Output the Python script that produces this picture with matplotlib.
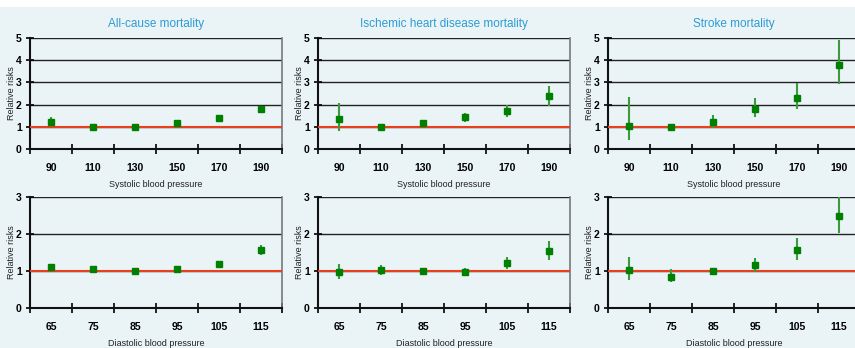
import matplotlib
matplotlib.use("Agg")
import matplotlib.pyplot as plt
from matplotlib.patches import Rectangle
import numpy as np

plt.rcParams['font.family'] = ['Liberation Sans Narrow', 'Liberation Sans', 'DejaVu Sans']

titles = ["All-cause mortality", "Ischemic heart disease mortality", "Stroke mortality"]

sbp_labels = ["90", "110", "130", "150", "170", "190"]
dbp_labels = ["65", "75", "85", "95", "105", "115"]

# systolic: relative risk, lower, upper
sbp_rr = [[1.20, 1.00, 1.00, 1.18, 1.40, 1.78],
          [1.33, 1.00, 1.15, 1.42, 1.72, 2.37],
          [1.02, 1.00, 1.22, 1.82, 2.30, 3.80]]
sbp_lo = [[1.05, 0.95, 0.95, 1.10, 1.32, 1.70],
          [0.80, 0.95, 1.05, 1.22, 1.45, 1.95],
          [0.40, 0.95, 0.95, 1.42, 1.78, 2.92]]
sbp_hi = [[1.45, 1.05, 1.05, 1.26, 1.48, 1.86],
          [2.05, 1.05, 1.28, 1.62, 2.00, 2.85],
          [2.32, 1.05, 1.52, 2.28, 2.98, 4.92]]

# diastolic
dbp_rr = [[1.10, 1.05, 1.00, 1.06, 1.20, 1.57],
          [0.97, 1.02, 1.00, 0.98, 1.22, 1.54],
          [1.02, 0.85, 1.00, 1.15, 1.57, 2.48]]
dbp_lo = [[1.02, 1.00, 0.96, 1.01, 1.14, 1.43],
          [0.78, 0.90, 0.95, 0.88, 1.06, 1.30],
          [0.75, 0.69, 0.95, 0.98, 1.30, 2.02]]
dbp_hi = [[1.18, 1.10, 1.04, 1.11, 1.26, 1.70],
          [1.20, 1.15, 1.05, 1.07, 1.37, 1.80],
          [1.38, 1.05, 1.05, 1.35, 1.88, 3.05]]

W, H = 855, 348
bg = '#EAF4F6'
fig = plt.figure(figsize=(W / 100, H / 100), dpi=100)
fig.patch.set_facecolor('white')
fig.patches.append(Rectangle((0, 0), 1, (H - 7) / H, transform=fig.transFigure,
                             facecolor=bg, edgecolor='none', zorder=-10))

lefts = [30, 318, 608]
rows = [(149, 38, 5, sbp_labels, sbp_rr, sbp_lo, sbp_hi, "Systolic blood pressure"),
        (308, 197, 3, dbp_labels, dbp_rr, dbp_lo, dbp_hi, "Diastolic blood pressure")]

for r, (ybot, ytop, ymax, labels, rr, lo, hi, xlab) in enumerate(rows):
    for c in range(3):
        ax = fig.add_axes([lefts[c] / W, (H - ybot) / H, 252 / W, (ybot - ytop) / H])
        ax.set_facecolor(bg)
        x = np.arange(6)
        v = np.array(rr[c])
        l = np.array(lo[c])
        h = np.array(hi[c])
        ax.axhline(1, color='#E8401C', lw=1.5, zorder=3)
        for yv in range(1, ymax + 1):
            ax.axhline(yv, color='#222222', lw=1.0, zorder=1)
        ax.errorbar(x, v, yerr=[v - l, h - v], fmt='none', ecolor='#3C9A3C',
                    elinewidth=1.5, capsize=0, zorder=4)
        ax.plot(x, v, 's', color='#008000', ms=5, zorder=5)
        ax.set_xlim(-0.5, 5.5)
        ax.set_ylim(0, ymax)
        ax.set_xticks(np.arange(-0.5, 6, 1))
        ax.set_xticklabels([])
        ax.set_xticks(x, minor=True)
        ax.set_xticklabels(labels, minor=True, fontsize=7.5, fontweight='bold',
                           family=['Liberation Sans', 'DejaVu Sans'])
        ax.tick_params(axis='x', which='major', direction='inout', length=7, width=1.2)
        ax.tick_params(axis='x', which='minor', length=0, pad=10)
        ax.set_yticks(range(ymax + 1))
        ax.set_yticklabels([str(t) for t in range(ymax + 1)], fontsize=7.5,
                           fontweight='bold', family=['Liberation Sans', 'DejaVu Sans'])
        ax.tick_params(axis='y', direction='inout', length=6, width=1.2, pad=3)
        for s in ['left', 'bottom']:
            ax.spines[s].set_linewidth(1.5)
            ax.spines[s].set_color('#111111')
        ax.spines['top'].set_visible(False)
        ax.spines['right'].set_color('#777777')
        ax.spines['right'].set_linewidth(1.2)
        ax.set_ylabel("Relative risks", fontsize=6.5, labelpad=0, color='#222222')
        ax.set_xlabel(xlab, fontsize=6.5, labelpad=5, color='#222222')
        if r == 0:
            ax.set_title(titles[c], fontsize=8.5, color='#2E9BD6', pad=8)

fig.savefig("out.png", dpi=100, facecolor=fig.get_facecolor())
